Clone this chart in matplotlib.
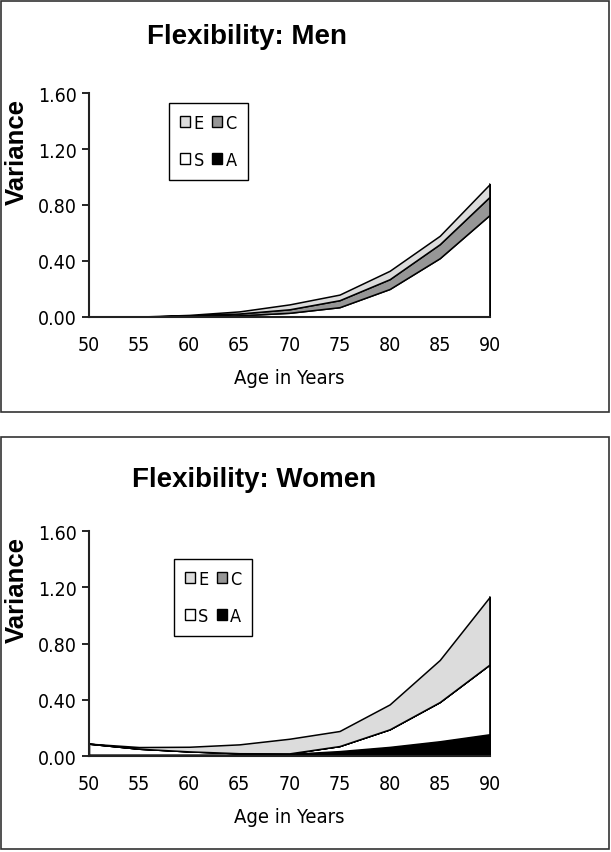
import numpy as np
import matplotlib.pyplot as plt
from matplotlib.patches import Rectangle, Patch

# age points
ages = [50, 55, 60, 65, 70, 75, 80, 85, 90]

# men: variance components (stacked bottom -> top: A, S, C, E)
men_A = [0.004, 0.001, 0.004, 0.006, 0.004, 0.002, 0.001, 0.001, 0.001]
men_S = [0.000, 0.000, 0.002, 0.006, 0.026, 0.068, 0.199, 0.419, 0.729]
men_C = [0.000, 0.001, 0.004, 0.013, 0.025, 0.050, 0.070, 0.100, 0.130]
men_E = [0.001, 0.001, 0.005, 0.015, 0.035, 0.040, 0.060, 0.060, 0.090]

# women
women_A = [0.010, 0.010, 0.010, 0.010, 0.015, 0.035, 0.065, 0.105, 0.155]
women_S = [0.078, 0.042, 0.023, 0.010, 0.004, 0.036, 0.125, 0.279, 0.497]
women_C = [0.000, 0.000, 0.000, 0.000, 0.000, 0.000, 0.000, 0.000, 0.000]
women_E = [0.000, 0.012, 0.033, 0.063, 0.104, 0.107, 0.177, 0.299, 0.481]

labels = ['A', 'S', 'C', 'E']
colors = ['#000000', '#ffffff', '#969696', '#dcdcdc']
yticks = [0.0, 0.4, 0.8, 1.2, 1.6]
xticks = [50, 55, 60, 65, 70, 75, 80, 85, 90]

tick_font = dict(family='DejaVu Sans', stretch='condensed')

fig = plt.figure(figsize=(6.11, 8.53), dpi=100)

# panel frames
fig.add_artist(Rectangle((0.002, 0.516), 0.995, 0.482, transform=fig.transFigure,
                         fill=False, edgecolor='#333333', linewidth=1.2))
fig.add_artist(Rectangle((0.002, 0.003), 0.995, 0.484, transform=fig.transFigure,
                         fill=False, edgecolor='#333333', linewidth=1.2))

def draw_panel(rect, series, title, title_xy, ylab_y, leg_anchor):
  ax = fig.add_axes(rect)
  ax.stackplot(ages, *series, colors=colors, edgecolor='black', linewidth=1.1)
  # closing line at the right end of the stack
  total = np.sum(np.array(series), axis=0)
  ax.plot([ages[-1], ages[-1]], [0, total[-1]], color='black', linewidth=1.1)
  ax.set_xlim(50, 90)
  ax.set_ylim(0, 1.6)
  ax.set_xticks(xticks)
  ax.set_yticks(yticks)
  ax.set_yticklabels(['%.2f' % v for v in yticks], fontsize=14, **tick_font)
  ax.set_xticklabels([str(v) for v in xticks], fontsize=14, **tick_font)
  ax.tick_params(axis='x', length=0, pad=13)
  ax.tick_params(axis='y', length=5, width=1.2, direction='out', pad=4)
  for s in ['top', 'right']:
    ax.spines[s].set_visible(False)
  for s in ['left', 'bottom']:
    ax.spines[s].set_linewidth(1.5)
    ax.spines[s].set_color('#222222')
  ax.set_xlabel('Age in Years', fontsize=14.5, labelpad=10, **tick_font)
  fig.text(17 / 611, ylab_y, 'Variance', fontsize=18.5, fontweight='bold',
           family='Liberation Sans', rotation=90, ha='center', va='center')
  fig.text(title_xy[0], title_xy[1], title, fontsize=20, fontweight='bold',
           family='Liberation Sans', ha='center', va='center')
  # legend: E C / S A
  hnd = [Patch(facecolor=colors[3], edgecolor='black', label='E'),
         Patch(facecolor=colors[1], edgecolor='black', label='S'),
         Patch(facecolor=colors[2], edgecolor='black', label='C'),
         Patch(facecolor=colors[0], edgecolor='black', label='A')]
  leg = ax.legend(handles=hnd, ncol=2, loc='upper left', bbox_to_anchor=leg_anchor,
                  borderaxespad=0, frameon=True, fancybox=False, edgecolor='black',
                  framealpha=1, handlelength=0.55, handleheight=0.55, handletextpad=0.2,
                  labelspacing=1.05, columnspacing=0.45, borderpad=0.6,
                  prop=dict(size=13, family='DejaVu Sans', stretch='condensed'))
  leg.get_frame().set_linewidth(1.0)
  return ax

draw_panel([0.1457, 0.6272, 0.656, 0.2626], [men_A, men_S, men_C, men_E],
           'Flexibility: Men', (0.405, 0.957), 1 - 152 / 853, (0.20, 0.955))
draw_panel([0.1457, 0.1125, 0.656, 0.2638], [women_A, women_S, women_C, women_E],
           'Flexibility: Women', (0.416, 0.437), 1 - 590 / 853, (0.212, 0.876))

fig.savefig('out.png', dpi=100)
